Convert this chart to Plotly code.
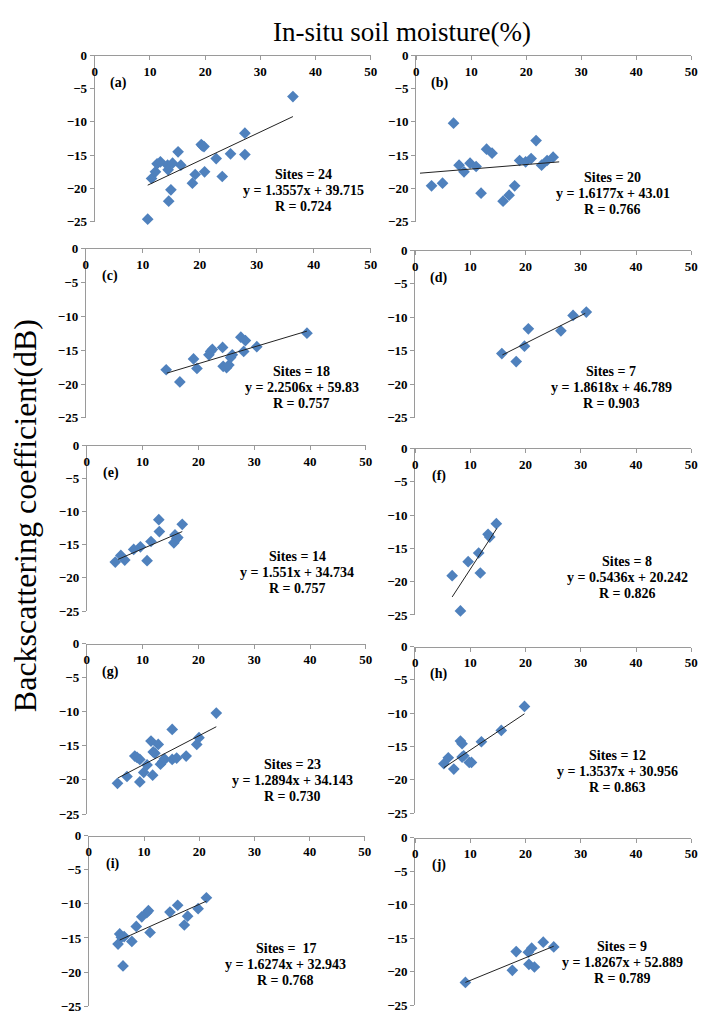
import plotly.graph_objects as go

W, H = 715, 1025

# ---------------- data ----------------
sm_a = [9.6, 10.3, 11.0, 11.3, 11.9, 13.2, 13.3, 13.4, 13.8, 14.1, 15.1, 15.6,
        17.7, 18.2, 19.3, 19.5, 19.8, 19.9, 22.0, 23.1, 24.6, 27.2, 27.2, 35.9]
bs_a = [-24.6, -18.5, -17.5, -16.3, -16.0, -16.5, -17.2, -21.9, -20.2, -16.2, -14.5, -16.5,
        -19.2, -17.9, -13.4, -13.6, -13.7, -17.5, -15.5, -18.2, -14.8, -11.7, -14.9, -6.2]
trend_a_x = [9.6, 35.9]
trend_a_y = [-19.5, -9.2]

sm_b = [2.8, 4.8, 6.8, 7.8, 8.7, 9.8, 10.9, 11.8, 12.8, 13.8, 15.8, 16.9, 17.9, 18.8,
        19.9, 20.9, 21.8, 22.8, 23.8, 24.9]
bs_b = [-19.6, -19.2, -10.2, -16.5, -17.5, -16.2, -16.7, -20.7, -14.1, -14.7, -21.9, -21.0,
        -19.6, -15.8, -16.0, -15.5, -12.8, -16.5, -15.8, -15.3]
trend_b_x = [0.7, 26.0]
trend_b_y = [-17.7, -16.0]

sm_c = [14.1, 16.5, 18.9, 19.5, 21.6, 21.9, 22.2, 24.0, 24.1, 24.7, 25.1, 25.4, 25.7,
        27.2, 27.7, 28.0, 30.0, 38.8]
bs_c = [-17.9, -19.7, -16.3, -17.7, -15.7, -15.2, -14.9, -14.6, -17.4, -17.6, -17.2, -16.1,
        -15.7, -13.1, -15.2, -13.6, -14.5, -12.5]
trend_c_x = [14.2, 38.8]
trend_c_y = [-18.4, -12.2]

sm_d = [15.7, 18.3, 19.8, 20.5, 26.4, 28.6, 31.0]
bs_d = [-15.4, -16.6, -14.3, -11.7, -12.0, -9.7, -9.2]
trend_d_x = [15.8, 30.8]
trend_d_y = [-15.6, -9.4]

sm_e = [5.1, 6.1, 6.8, 8.4, 9.6, 10.8, 11.5, 12.9, 13.0, 15.6, 15.8, 16.1, 16.3, 17.1]
bs_e = [-17.6, -16.6, -17.3, -15.7, -15.3, -17.4, -14.5, -11.2, -13.0, -14.7, -13.5, -14.1,
        -13.9, -11.9]
trend_e_x = [5.6, 17.1]
trend_e_y = [-17.2, -13.0]

sm_f = [6.7, 8.2, 9.6, 11.5, 11.8, 13.2, 13.5, 14.7]
bs_f = [-19.1, -24.4, -17.0, -15.7, -18.7, -12.9, -13.3, -11.3]
trend_f_x = [6.7, 14.8]
trend_f_y = [-22.3, -12.0]

sm_g = [5.5, 7.2, 8.6, 9.0, 9.5, 9.5, 10.2, 10.8, 11.5, 11.8, 11.9, 12.2, 12.8, 13.2,
        13.6, 13.9, 15.3, 15.3, 16.1, 17.8, 19.7, 20.1, 23.2]
bs_g = [-20.5, -19.5, -16.5, -16.7, -17.0, -20.3, -18.9, -17.8, -14.3, -19.3, -15.9, -16.1,
        -14.8, -17.7, -17.3, -16.9, -12.6, -17.0, -16.8, -16.5, -14.8, -13.8, -10.2]
trend_g_x = [5.6, 23.2]
trend_g_y = [-19.7, -12.2]

sm_h = [5.2, 6.0, 7.0, 8.2, 8.5, 8.5, 8.8, 9.8, 10.2, 12.0, 15.6, 19.8]
bs_h = [-17.6, -16.7, -18.4, -14.2, -14.6, -16.6, -16.4, -17.4, -17.4, -14.3, -12.6, -9.0]
trend_h_x = [5.2, 19.8]
trend_h_y = [-18.2, -10.1]

sm_i = [5.3, 5.6, 5.9, 6.2, 6.4, 7.8, 8.6, 9.6, 10.5, 10.8, 11.1, 14.7, 16.1, 17.3,
        17.9, 19.8, 21.3]
bs_i = [-15.9, -14.4, -14.9, -19.1, -14.8, -15.5, -13.3, -11.9, -11.3, -11.0, -14.2, -11.2,
        -10.2, -13.1, -11.8, -10.7, -9.1]
trend_i_x = [5.6, 21.3]
trend_i_y = [-15.3, -9.6]

sm_j = [9.1, 17.6, 18.3, 20.5, 20.6, 21.1, 21.6, 23.2, 25.1]
bs_j = [-21.6, -19.8, -17.0, -17.1, -18.9, -16.5, -19.3, -15.6, -16.3]
trend_j_x = [9.1, 25.1]
trend_j_y = [-21.6, -16.2]

panel_labels = ["(a)", "(b)", "(c)", "(d)", "(e)", "(f)", "(g)", "(h)", "(i)", "(j)"]
sites_text = ["Sites = 24", "Sites = 20", "Sites = 18", "Sites = 7", "Sites = 14",
              "Sites = 8", "Sites = 23", "Sites = 12", "Sites =  17", "Sites = 9"]
equation_text = ["y = 1.3557x + 39.715", "y = 1.6177x + 43.01", "y = 2.2506x + 59.83",
                 "y = 1.8618x + 46.789", "y = 1.551x + 34.734", "y = 0.5436x + 20.242",
                 "y = 1.2894x + 34.143", "y = 1.3537x + 30.956", "y = 1.6274x + 32.943",
                 "y = 1.8267x + 52.889"]
r_text = ["R = 0.724", "R = 0.766", "R = 0.757", "R = 0.903", "R = 0.757",
          "R = 0.826", "R = 0.730", "R = 0.863", "R = 0.768", "R = 0.789"]
x_ticks = [0, 10, 20, 30, 40, 50]
y_ticks = [0, -5, -10, -15, -20, -25]

x_title = "In-situ soil moisture(%)"
y_title = "Backscattering coefficient(dB)"

# ---------------- layout (pixel geometry of each panel) ----------------
panels = [
    (sm_a, bs_a, trend_a_x, trend_a_y),
    (sm_b, bs_b, trend_b_x, trend_b_y),
    (sm_c, bs_c, trend_c_x, trend_c_y),
    (sm_d, bs_d, trend_d_x, trend_d_y),
    (sm_e, bs_e, trend_e_x, trend_e_y),
    (sm_f, bs_f, trend_f_x, trend_f_y),
    (sm_g, bs_g, trend_g_x, trend_g_y),
    (sm_h, bs_h, trend_h_x, trend_h_y),
    (sm_i, bs_i, trend_i_x, trend_i_y),
    (sm_j, bs_j, trend_j_x, trend_j_y),
]
# left px, right px, top px, bottom px
boxes = [
    (93, 373, 49, 218), (419, 698, 49, 218),
    (84, 373, 245, 417), (418, 698, 247, 417),
    (85, 368, 445, 613), (418, 698, 448, 617),
    (85, 368, 646, 819), (418, 698, 649, 818),
    (87, 367, 841, 1014), (418, 698, 843, 1013),
]
# stats block: center x (data), first line y (data)
stats_pos = [
    (37.9, -17.9), (35.7, -18.3), (37.9, -18.2), (35.5, -18.1), (37.7, -16.8),
    (38.4, -17.0), (36.9, -17.8), (36.6, -16.4), (35.7, -16.6), (37.5, -16.2),
]

SERIF = "Liberation Serif"
AXIS_COL = "#9a9a9a"
tickfont = dict(family=SERIF, size=13, color="black", weight="bold")

fig = go.Figure()
layout = dict(
    width=W, height=H, margin=dict(l=0, r=0, t=0, b=0),
    paper_bgcolor="white", plot_bgcolor="white", showlegend=False,
)
annotations = []

for i, ((xs, ys, tx, ty), (l, r, t, b)) in enumerate(zip(panels, boxes)):
    n = "" if i == 0 else str(i + 1)
    xref, yref = "x" + n, "y" + n
    fig.add_trace(go.Scatter(
        x=xs, y=ys, mode="markers", xaxis=xref, yaxis=yref, cliponaxis=False,
        marker=dict(symbol="diamond", size=9, color="#4F81BD", line=dict(width=0)),
        hoverinfo="skip"))
    fig.add_trace(go.Scatter(
        x=tx, y=ty, mode="lines", xaxis=xref, yaxis=yref,
        line=dict(color="#222222", width=1), hoverinfo="skip"))
    # x axis sits on the y = 0 edge (top), with ticks and labels hanging below it
    layout["xaxis" + n] = dict(
        domain=[l / W, r / W], range=[0, 50], side="bottom",
        anchor="free", position=1 - t / H,
        tickvals=x_ticks, ticks="outside", ticklen=4, tickcolor=AXIS_COL,
        tickfont=tickfont, showline=True, linecolor=AXIS_COL, linewidth=1,
        showgrid=False, zeroline=False)
    layout["yaxis" + n] = dict(
        domain=[1 - b / H, 1 - t / H], range=[-25, 0], anchor=xref,
        tickvals=y_ticks, ticks="outside", ticklen=4, tickcolor=AXIS_COL,
        tickfont=tickfont, showline=True, linecolor=AXIS_COL, linewidth=1,
        showgrid=False, zeroline=False)
    annotations.append(dict(
        x=4.3, y=-4.1, xref=xref, yref=yref, text=panel_labels[i], showarrow=False,
        font=dict(family=SERIF, size=14, color="black", weight="bold")))
    cx, cy = stats_pos[i]
    for k, txt in enumerate([sites_text[i], equation_text[i], r_text[i]]):
        annotations.append(dict(
            x=cx, y=cy, xref=xref, yref=yref, yshift=-16 * k, text=txt,
            showarrow=False, xanchor="center", yanchor="middle",
            font=dict(family=SERIF, size=14, color="black", weight="bold")))

annotations.append(dict(
    x=405 / W, y=1 - 25 / H, xref="paper", yref="paper", text=x_title,
    showarrow=False, xanchor="center", yanchor="middle",
    font=dict(family=SERIF, size=27, color="black")))
annotations.append(dict(
    x=23 / W, y=1 - 516 / H, xref="paper", yref="paper", text=y_title,
    showarrow=False, textangle=-90, xanchor="center", yanchor="middle",
    font=dict(family=SERIF, size=32, color="black")))

layout["annotations"] = annotations
fig.update_layout(**layout)
fig.write_html("out.html")
